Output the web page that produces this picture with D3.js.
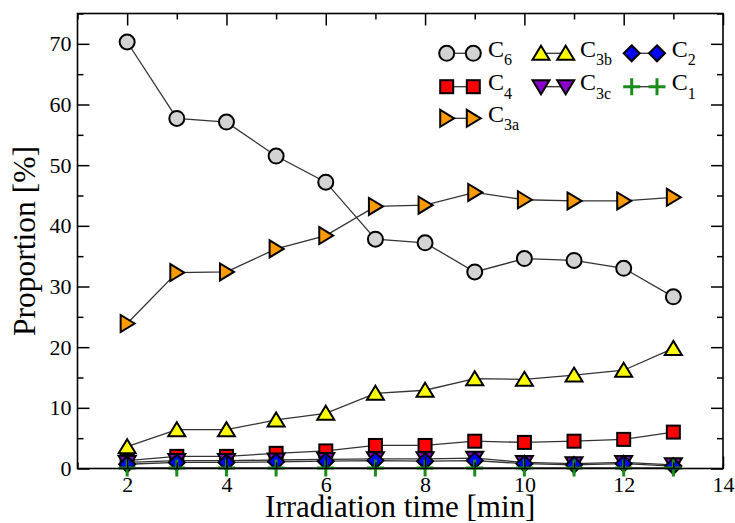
<!DOCTYPE html>
<html><head><meta charset="utf-8">
<script src="https://cdn.jsdelivr.net/npm/d3@7"></script>
<style>body{margin:0;background:#fff}svg{display:block}text{font-family:"Liberation Serif","Times New Roman",serif;fill:#000}</style>
</head><body><svg id="c" width="735" height="523"></svg>
<script>
const times = [2,3,4,5,6,7,8,9,10,11,12,13];
const C6  = [70.3,57.7,57.1,51.5,47.2,37.8,37.2,32.4,34.6,34.3,33.0,28.3];
const C4  = [1.3,2.0,2.0,2.5,2.9,3.8,3.8,4.5,4.3,4.5,4.8,6.0];
const C3a = [23.9,32.3,32.4,36.2,38.4,43.2,43.4,45.5,44.3,44.1,44.1,44.7];
const C3b = [3.6,6.4,6.4,8.0,9.1,12.4,12.9,14.8,14.7,15.4,16.2,19.8];
const C3c = [1.0,1.3,1.3,1.4,1.5,1.6,1.6,1.7,1.0,0.8,1.0,0.6];
const C2  = [0.7,1.0,1.0,1.1,1.2,1.3,1.2,1.3,0.8,0.6,0.8,0.4];
const C1  = [0.1,0.1,0.1,0.1,0.1,0.1,0.1,0.1,0.1,0.1,0.1,0.1];
const xTicks = [2,4,6,8,10,12,14];
const xMinor = [1,3,5,7,9,11,13];
const yTicks = [0,10,20,30,40,50,60,70];
const yMinor = [5,15,25,35,45,55,65,75];

const series = [
  {name:"C", sub:"6",  vals:C6,  shape:"circle",   fill:"#d3d3d3", col:0,row:0},
  {name:"C", sub:"4",  vals:C4,  shape:"square",   fill:"#ff0000", col:0,row:1},
  {name:"C", sub:"3a", vals:C3a, shape:"triRight", fill:"#ff9a00", col:0,row:2},
  {name:"C", sub:"3b", vals:C3b, shape:"triUp",    fill:"#ffff00", col:1,row:0},
  {name:"C", sub:"3c", vals:C3c, shape:"triDown",  fill:"#8a00c8", col:1,row:1},
  {name:"C", sub:"2",  vals:C2,  shape:"diamond",  fill:"#0000ff", col:2,row:0},
  {name:"C", sub:"1",  vals:C1,  shape:"plus",     fill:"#1a8c1a", col:2,row:1}
];

const svg = d3.select("#c");
const L=77.5, R=723, T=13.5, B=468.5;
const x = d3.scaleLinear().domain([1,14]).range([L,R]);
const y = d3.scaleLinear().domain([0,75]).range([B,T]);

function drawSymbol(g, shape, fill, cx, cy){
  let el;
  if(shape==="circle"){
    el = g.append("circle").attr("cx",cx).attr("cy",cy).attr("r",7.5);
  } else if(shape==="square"){
    el = g.append("rect").attr("x",cx-6.5).attr("y",cy-6.5).attr("width",13).attr("height",13);
  } else if(shape==="triUp"){
    el = g.append("path").attr("d",`M${cx},${cy-7.5}L${cx+8.5},${cy+6.5}L${cx-8.5},${cy+6.5}Z`);
  } else if(shape==="triDown"){
    el = g.append("path").attr("d",`M${cx},${cy+7.5}L${cx+8.5},${cy-6.5}L${cx-8.5},${cy-6.5}Z`);
  } else if(shape==="triRight"){
    el = g.append("path").attr("d",`M${cx+7.5},${cy}L${cx-6.5},${cy-8.5}L${cx-6.5},${cy+8.5}Z`);
  } else if(shape==="diamond"){
    el = g.append("path").attr("d",`M${cx},${cy-8}L${cx+8},${cy}L${cx},${cy+8}L${cx-8},${cy}Z`);
  } else if(shape==="plus"){
    g.append("path").attr("d",`M${cx-8.5},${cy}H${cx+8.5}M${cx},${cy-8.5}V${cy+8.5}`)
      .attr("stroke",fill).attr("stroke-width",3).attr("fill","none");
    return;
  }
  el.attr("fill",fill).attr("stroke","#000").attr("stroke-width",2).attr("stroke-linejoin","miter");
}

// data
const line = d3.line().x((d,i)=>x(times[i])).y(d=>y(d));
series.forEach(s=>{
  const g = svg.append("g");
  g.append("path").attr("d",line(s.vals)).attr("fill","none").attr("stroke","#333").attr("stroke-width",1.3);
  s.vals.forEach((v,i)=>drawSymbol(g,s.shape,s.fill,x(times[i]),y(v)));
});

// axes (ticks inward on all sides)
const fs = 22;
function styleAxis(g){ g.select(".domain").remove(); g.selectAll(".tick line").attr("stroke","#000").attr("stroke-width",1.5); g.selectAll("text").attr("font-size",fs).attr("font-family","Liberation Serif"); }
svg.append("g").attr("transform",`translate(0,${B})`).call(d3.axisBottom(x).tickValues(xTicks).tickSize(-12).tickPadding(8).tickFormat(d3.format("d"))).call(styleAxis);
svg.append("g").attr("transform",`translate(0,${B})`).call(d3.axisBottom(x).tickValues(xMinor).tickSize(-6).tickFormat("")).call(styleAxis);
svg.append("g").attr("transform",`translate(0,${T})`).call(d3.axisTop(x).tickValues(xTicks).tickSize(-12).tickFormat("")).call(styleAxis);
svg.append("g").attr("transform",`translate(0,${T})`).call(d3.axisTop(x).tickValues(xMinor).tickSize(-6).tickFormat("")).call(styleAxis);
svg.append("g").attr("transform",`translate(${L},0)`).call(d3.axisLeft(y).tickValues(yTicks).tickSize(-12).tickPadding(6).tickFormat(d3.format("d"))).call(styleAxis);
svg.append("g").attr("transform",`translate(${L},0)`).call(d3.axisLeft(y).tickValues(yMinor).tickSize(-6).tickFormat("")).call(styleAxis);
svg.append("g").attr("transform",`translate(${R},0)`).call(d3.axisRight(y).tickValues(yTicks).tickSize(-12).tickFormat("")).call(styleAxis);
svg.append("g").attr("transform",`translate(${R},0)`).call(d3.axisRight(y).tickValues(yMinor).tickSize(-6).tickFormat("")).call(styleAxis);
svg.append("rect").attr("x",L).attr("y",T).attr("width",R-L).attr("height",B-T).attr("fill","none").attr("stroke","#000").attr("stroke-width",1.6);

// titles
svg.append("text").attr("x",(L+R)/2).attr("y",517).attr("text-anchor","middle").attr("font-size",31).text("Irradiation time [min]");
svg.append("text").attr("transform",`translate(35,${(T+B)/2}) rotate(-90)`).attr("text-anchor","middle").attr("font-size",31.5).text("Proportion [%]");

// legend
const colSym1=[446.7,541,631.7], colSym2=[473.3,565.7,657], colText=[488,580,671.7];
const rowY=[53.3,86.7,118.3];
series.forEach(s=>{
  const g = svg.append("g");
  const yy=rowY[s.row], x1=colSym1[s.col], x2=colSym2[s.col];
  g.append("line").attr("x1",x1).attr("x2",x2).attr("y1",yy).attr("y2",yy).attr("stroke","#333").attr("stroke-width",1.3);
  drawSymbol(g,s.shape,s.fill,x1,yy);
  drawSymbol(g,s.shape,s.fill,x2,yy);
  const t = g.append("text").attr("x",colText[s.col]).attr("y",yy+3.4).attr("font-size",24);
  t.append("tspan").text(s.name);
  t.append("tspan").attr("font-size",16).attr("dy",8.5).text(s.sub);
});
</script></body></html>
